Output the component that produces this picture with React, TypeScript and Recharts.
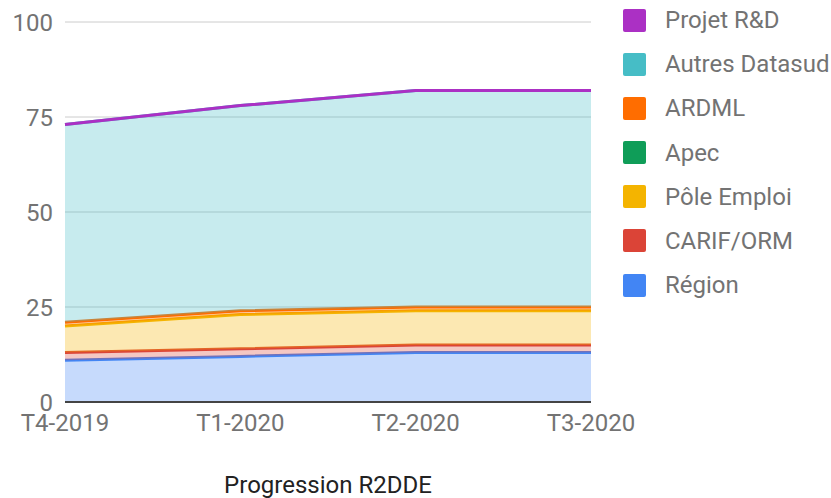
import React from 'react';
import { AreaChart, Area, XAxis, YAxis, CartesianGrid, Legend } from 'recharts';

const quarters = ['T4-2019', 'T1-2020', 'T2-2020', 'T3-2020'];

const region = [11, 12, 13, 13];
const carif = [2, 2, 2, 2];
const poleEmploi = [7, 9, 9, 9];
const apec = [0, 0, 0, 0];
const ardml = [1, 1, 1, 1];
const autresDatasud = [52, 54, 57, 57];
const projetRD = [0, 0, 0, 0];

const yTicks = [0, 25, 50, 75, 100];

// bottom of the stack first
const series = [
  { key: 'region', name: 'Région', color: '#4285f4', values: region },
  { key: 'carif', name: 'CARIF/ORM', color: '#db4437', values: carif },
  { key: 'pole', name: 'Pôle Emploi', color: '#f4b400', values: poleEmploi },
  { key: 'apec', name: 'Apec', color: '#0f9d58', values: apec, hideLine: true },
  { key: 'ardml', name: 'ARDML', color: '#ff6d00', values: ardml },
  { key: 'autres', name: 'Autres Datasud', color: '#46bdc6', values: autresDatasud },
  { key: 'projet', name: 'Projet R&D', color: '#ab30c4', values: projetRD },
];

const data = quarters.map((q, i) => {
  const row: Record<string, string | number> = { quarter: q };
  series.forEach(s => { row[s.key] = s.values[i]; });
  return row;
});

const FONT = 'Roboto, "Noto Sans", sans-serif';

const LegendList = () => (
  <div style={{ fontFamily: FONT }}>
    {[...series].reverse().map(s => (
      <div key={s.key} style={{ height: 44.17, display: 'flex', alignItems: 'center' }}>
        <span style={{ width: 23, height: 23, borderRadius: 2, background: s.color, marginLeft: 1, marginRight: 19 }} />
        <span style={{ fontSize: 24, color: '#737373', whiteSpace: 'nowrap' }}>{s.name}</span>
      </div>
    ))}
  </div>
);

export default function App() {
  return (
    <div style={{ position: 'absolute', left: 0, top: 0, width: 831, height: 498, background: '#fff' }}>
      <AreaChart width={831} height={498} data={data} margin={{ top: 22, right: 240, left: 0, bottom: 0 }}>
        <CartesianGrid vertical={false} stroke="#cccccc" />
        <XAxis
          dataKey="quarter"
          height={96}
          tickLine={false}
          tickSize={0}
          tickMargin={12}
          axisLine={{ stroke: '#444', strokeWidth: 2 }}
          tick={{ fontSize: 24, fill: '#737373', fontFamily: FONT }}
          label={{ value: 'Progression R2DDE', position: 'insideBottom', offset: 5, fontSize: 24, fill: '#222', fontFamily: FONT }}
        />
        <YAxis
          width={65}
          domain={[0, 100]}
          ticks={yTicks}
          tickLine={false}
          axisLine={false}
          tickSize={0}
          tickMargin={12}
          tick={{ fontSize: 24, fill: '#737373', fontFamily: FONT }}
        />
        <Legend
          layout="vertical"
          align="center"
          verticalAlign="middle"
          wrapperStyle={{ left: 622, top: -2, width: 209 }}
          content={() => <LegendList />}
        />
        {series.map(s => (
          <Area
            key={s.key}
            type="linear"
            dataKey={s.key}
            name={s.name}
            stackId="1"
            stroke={s.hideLine ? 'none' : s.color}
            strokeWidth={3}
            fill={s.color}
            fillOpacity={0.3}
            dot={false}
            activeDot={false}
            isAnimationActive={false}
          />
        ))}
      </AreaChart>
    </div>
  );
}
